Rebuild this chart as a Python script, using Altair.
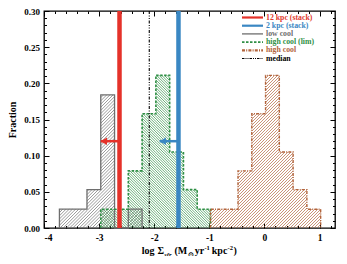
import altair as alt
import pandas as pd
import numpy as np

# ---------------- data ----------------
bin_edges = [-3.72, -3.47, -3.22, -2.97, -2.72, -2.47, -2.22, -1.97, -1.72, -1.47,
             -1.22, -0.98, -0.73, -0.48, -0.23, 0.02, 0.27, 0.52, 0.77, 1.02]
low_cool = [0.026, 0.026, 0.053, 0.184, 0.0, 0.026, 0, 0, 0, 0,
            0, 0, 0, 0, 0, 0, 0, 0, 0]
high_cool_lim = [0, 0, 0, 0.026, 0.026, 0.079, 0.158, 0.211, 0.105, 0.053,
                 0.026, 0, 0, 0, 0, 0, 0, 0, 0]
high_cool = [0, 0, 0, 0, 0, 0, 0, 0, 0, 0,
             0, 0.026, 0.026, 0.079, 0.158, 0.211, 0.105, 0.053, 0.026]

stack_12kpc = -2.63
stack_2kpc = -1.56
median_val = -2.09
arrow_y = 0.12
arrow_tip_12 = -2.97
arrow_tip_2 = -1.90

legend_labels = ["12 kpc (stack)", "2 kpc (stack)", "low cool",
                 "high cool (lim)", "high cool", "median"]
x_major = [-4, -3, -2, -1, 0, 1]
y_major = [0.0, 0.05, 0.10, 0.15, 0.20, 0.25, 0.30]

# ---------------- styling / layout ----------------
RED = "#e5322a"
BLUE = "#3a87c3"
GRAY = "#6e6e6e"
GREEN = "#2f8f45"
BROWN = "#b2643c"
FONT = "Liberation Serif"

W, H = 291, 217
XMIN, XMAX, YMAX = -4.0, 1.28, 0.30
xs = alt.Scale(domain=[XMIN, XMAX], nice=False, zero=False)
ys = alt.Scale(domain=[0, YMAX], nice=False, zero=False)


def hatch(vals, direction, step, series):
    kx = W / (XMAX - XMIN)
    ky = H / YMAX
    rows = []
    for i, v in enumerate(vals):
        if v <= 0:
            continue
        X0 = (bin_edges[i] - XMIN) * kx
        X1 = (bin_edges[i + 1] - XMIN) * kx
        Y = v * ky
        kmin = int(np.floor((X0 - Y) / step)) - 1
        kmax = int(np.ceil((X1 + Y) / step)) + 1
        for k in range(kmin, kmax + 1):
            c = k * step
            if direction == "/":
                a, b = max(X0, c), min(X1, c + Y)
                if b - a <= 0.05:
                    continue
                ya, yb = a - c, b - c
            else:
                a, b = max(X0, c - Y), min(X1, c)
                if b - a <= 0.05:
                    continue
                ya, yb = c - a, c - b
            rows.append(dict(x=XMIN + a / kx, y=ya / ky, x2=XMIN + b / kx,
                             y2=yb / ky, series=series))
    return pd.DataFrame(rows)


def outline(vals):
    nz = [i for i, v in enumerate(vals) if v > 0]
    f, l = nz[0], nz[-1]
    pts = [(bin_edges[f], 0.0)]
    for i in range(f, l + 1):
        pts.append((bin_edges[i], vals[i]))
    pts.append((bin_edges[l + 1], 0.0))
    return pd.DataFrame({"x": [p[0] for p in pts], "y": [p[1] for p in pts],
                         "o": list(range(len(pts)))})


def hatch_layer(vals, direction, step, color):
    df = hatch(vals, direction, step, "s")
    return alt.Chart(df).mark_rule(color=color, strokeWidth=0.7).encode(
        x=alt.X("x:Q", scale=xs, axis=None),
        y=alt.Y("y:Q", scale=ys, axis=None),
        x2="x2:Q", y2="y2:Q")


def outline_layer(vals, color, dash, width):
    kw = dict(color=color, strokeWidth=width, interpolate="step-after")
    if dash:
        kw["strokeDash"] = dash
    return alt.Chart(outline(vals)).mark_line(**kw).encode(
        x=alt.X("x:Q", scale=xs, axis=None),
        y=alt.Y("y:Q", scale=ys, axis=None),
        order="o:Q")


red_line = alt.Chart(pd.DataFrame({"x": [stack_12kpc]})).mark_rule(
    color=RED, strokeWidth=4.5).encode(x=alt.X("x:Q", scale=xs, axis=None))
blue_line = alt.Chart(pd.DataFrame({"x": [stack_2kpc]})).mark_rule(
    color=BLUE, strokeWidth=4.5).encode(x=alt.X("x:Q", scale=xs, axis=None))
med_line = alt.Chart(pd.DataFrame({"x": [median_val]})).mark_rule(
    color="black", strokeWidth=1.1, strokeDash=[3, 1.5, 1, 1.5, 1, 1.5]).encode(
    x=alt.X("x:Q", scale=xs, axis=None))

arrows = pd.DataFrame({"x": [stack_12kpc, stack_2kpc],
                       "x2": [arrow_tip_12, arrow_tip_2],
                       "y": [arrow_y, arrow_y],
                       "c": [RED, BLUE]})
arrow_shaft = alt.Chart(arrows).mark_rule(strokeWidth=2.5).encode(
    x=alt.X("x:Q", scale=xs, axis=None), x2="x2:Q",
    y=alt.Y("y:Q", scale=ys, axis=None),
    color=alt.Color("c:N", scale=None))
arrow_head = alt.Chart(arrows).mark_point(
    shape="triangle-left", filled=True, size=55, opacity=1, xOffset=3).encode(
    x=alt.X("x2:Q", scale=xs, axis=None),
    y=alt.Y("y:Q", scale=ys, axis=None),
    color=alt.Color("c:N", scale=None))

# ---------------- axes (inward ticks on all four sides) ----------------
anchor = pd.DataFrame({"x": [XMIN], "y": [0.0]})
x_minor = [round(XMIN + 0.2 * i, 2) for i in range(27)]
x_minor = [v for v in x_minor if v <= XMAX and abs(v - round(v)) > 1e-6]
y_minor = [round(0.01 * i, 2) for i in range(31)]
y_minor = [v for v in y_minor if abs(v * 20 - round(v * 20)) > 1e-6]

lab = dict(labelFont=FONT, labelFontWeight="bold", labelColor="black")


def ax(orient, values, size, labels=False, **extra):
    d = dict(orient=orient, values=values, tickSize={"expr": str(-size)},
             tickColor="black", tickWidth=1, grid=False, domain=False,
             labels=labels, title=None)
    d.update(extra)
    return alt.Axis(**d)


def axis_layer(xa, ya):
    return alt.Chart(anchor).mark_point(opacity=0).encode(
        x=alt.X("x:Q", scale=xs, axis=xa), y=alt.Y("y:Q", scale=ys, axis=ya))


ax_main = axis_layer(
    ax("bottom", x_major, 5, labels=True, labelExpr="'' + datum.value",
       labelFontSize=9.5, labelPadding=9.5, **lab),
    ax("left", y_major, 5, labels=True, format=".2f", labelFontSize=9,
       labelPadding=9.5, title="Fraction", titleFont=FONT, titleFontSize=10,
       titleFontWeight="bold", titleColor="black", titlePadding=6, **lab))
ax_minor = axis_layer(ax("bottom", x_minor, 2.5), ax("left", y_minor, 2.5))
ax_top = axis_layer(ax("top", x_major, 5), ax("right", y_major, 5))
ax_top_minor = axis_layer(ax("top", x_minor, 2.5), ax("right", y_minor, 2.5))

# ---------------- legend (drawn inside the plot) ----------------
leg_styles = [(RED, None, 2.2), (BLUE, None, 2.2), (GRAY, None, 1.3),
              (GREEN, [2.5, 1.5], 1.6), (BROWN, [3, 1.2, 1, 1.2], 2.2),
              ("black", [2.5, 1, 1, 1, 1, 1], 1.2)]
legend_layers = []
for i, (text, (col, dash, wd)) in enumerate(zip(legend_labels, leg_styles)):
    yy = 6.5 + 8.2 * i
    kw = dict(color=col, strokeWidth=wd)
    if dash:
        kw["strokeDash"] = dash
    legend_layers.append(alt.Chart(anchor).mark_rule(**kw).encode(
        x=alt.value(198), x2=alt.value(219), y=alt.value(yy)))
    legend_layers.append(alt.Chart(anchor).mark_text(
        text=text, align="left", baseline="middle", font=FONT, fontSize=7.8,
        fontWeight="bold", color=("#e23a2e" if col == RED else col)).encode(
        x=alt.value(222), y=alt.value(yy)))

# ---------------- x title built from pieces (sub/superscripts) ----------------
TB = H + 26
title_pieces = [("log", 97.7, 0, 10, "normal"), ("\u03a3", 113.5, 0, 10, "normal"),
                ("sfr", 120.2, 2.5, 6.5, "italic"), ("(M", 130.5, 0, 10, "normal"),
                ("\u2299", 143.6, 2.5, 6.5, "normal"), ("yr", 150.8, 0, 10, "normal"),
                ("-1", 160.4, -3.8, 6.5, "normal"), ("kpc", 167.8, 0, 10, "normal"),
                ("-2", 183.6, -3.8, 6.5, "normal"), (")", 189.4, 0, 10, "normal")]
title_layers = []
for t, px, dy, fs, style in title_pieces:
    title_layers.append(alt.Chart(anchor).mark_text(
        text=t, align="left", baseline="alphabetic", font=FONT, fontSize=fs,
        fontWeight="bold", fontStyle=style, color="black").encode(
        x=alt.value(px), y=alt.value(TB + dy)))

layers = [
    hatch_layer(low_cool, "/", 3.2, GRAY),
    hatch_layer(high_cool_lim, "\\", 2.6, GREEN),
    hatch_layer(high_cool, "/", 3.0, BROWN),
    outline_layer(low_cool, GRAY, None, 1.3),
    outline_layer(high_cool_lim, GREEN, [2.5, 1.5], 1.6),
    outline_layer(high_cool, BROWN, [3, 1.2, 1, 1.2], 1.4),
    med_line, red_line, blue_line, arrow_shaft, arrow_head,
    ax_main, ax_minor, ax_top, ax_top_minor,
] + legend_layers + title_layers

chart = alt.layer(*layers).resolve_axis(x="independent", y="independent").properties(
    width=W, height=H,
    padding={"left": 36, "top": 3, "right": 4, "bottom": 28},
    autosize=alt.AutoSizeParams(type="none"),
    background="white",
).configure_view(stroke="black", strokeWidth=1.3)

chart.save("out.html", embed_options={"renderer": "svg", "actions": False})
